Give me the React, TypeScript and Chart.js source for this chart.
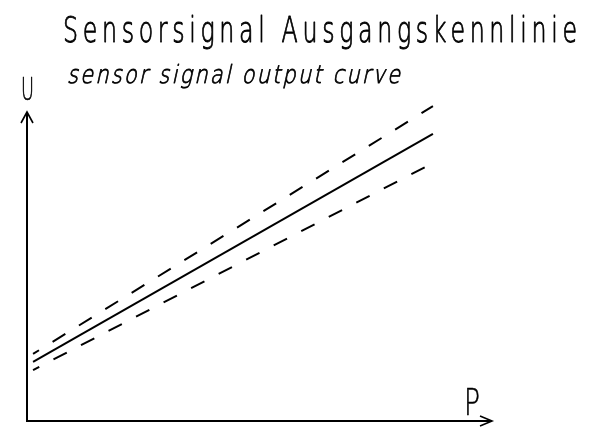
import React, { useEffect, useRef } from "react";
import { Chart, registerables } from "chart.js";

Chart.register(...registerables);

// Data (arbitrary units, P on x, U on y)
const P_VALUES = [1.3, 87.3];
const U_NOMINAL = [19.1, 92.9];
const U_UPPER = [21.7, 101.9];
const U_LOWER = [16.5, 83.5];

const TITLE = "Sensorsignal Ausgangskennlinie";
const SUBTITLE = "sensor signal output curve";
const Y_LABEL = "U";
const X_LABEL = "P";

const pts = (ys: number[]) => P_VALUES.map((x, i) => ({ x, y: ys[i] }));

function fitText(
  ctx: CanvasRenderingContext2D,
  text: string,
  x: number,
  baseline: number,
  width: number,
  font: string,
  sx: number,
  skew = 0,
  stroke = 0
) {
  ctx.save();
  ctx.font = font;
  ctx.textBaseline = "alphabetic";
  ctx.textAlign = "left";
  (ctx as any).letterSpacing = "0px";
  const m = ctx.measureText(text).width;
  const n = text.length;
  const ls = n > 1 ? (width / sx - m) / (n - 1) : 0;
  (ctx as any).letterSpacing = `${ls}px`;
  ctx.translate(x, baseline);
  ctx.transform(1, 0, -skew, 1, 0, 0);
  ctx.scale(n > 1 ? sx : width / m, 1);
  ctx.fillStyle = "#000";
  ctx.fillText(text, 0, 0);
  if (stroke > 0) {
    ctx.strokeStyle = "#000";
    ctx.lineWidth = stroke;
    ctx.lineJoin = "round";
    ctx.strokeText(text, 0, 0);
  }
  ctx.restore();
}

const decorPlugin = {
  id: "decor",
  afterDraw(chart: any) {
    const { ctx, chartArea } = chart;
    const { left, right, top, bottom } = chartArea;
    ctx.save();
    ctx.strokeStyle = "#000";
    ctx.lineWidth = 2;
    ctx.lineCap = "butt";
    // axes
    ctx.beginPath();
    ctx.moveTo(left, top);
    ctx.lineTo(left, bottom);
    ctx.lineTo(right, bottom);
    ctx.stroke();
    // arrowheads
    ctx.lineWidth = 1.6;
    ctx.beginPath();
    ctx.moveTo(left - 6, top + 11);
    ctx.lineTo(left, top);
    ctx.lineTo(left + 6, top + 11);
    ctx.moveTo(right - 12, bottom - 5);
    ctx.lineTo(right, bottom);
    ctx.lineTo(right - 12, bottom + 5);
    ctx.stroke();
    ctx.restore();

    const fam = "'DejaVu Sans', sans-serif";
    fitText(ctx, TITLE, 63, 42, 514, `200 36px ${fam}`, 0.66, 0, 0.9);
    fitText(ctx, SUBTITLE, 67, 83, 333, `200 25px ${fam}`, 0.84, 0.22, 0.8);
    fitText(ctx, Y_LABEL, 21, 100, 13, `200 32px ${fam}`, 1, 0, 0.6);
    fitText(ctx, X_LABEL, 464, 415, 16, `200 38px ${fam}`, 1, 0, 0.6);
  },
};

export default function App() {
  const ref = useRef<HTMLCanvasElement | null>(null);
  useEffect(() => {
    document.body.style.margin = "0";
    const canvas = ref.current!;
    const dashed = {
      borderColor: "#000",
      borderWidth: 2,
      borderDash: [15, 16],
      borderDashOffset: 8,
      pointRadius: 0,
      fill: false,
      tension: 0,
      clip: false as any,
    };
    const chart = new Chart(canvas, {
      type: "line",
      data: {
        datasets: [
          { label: "upper", data: pts(U_UPPER), ...dashed },
          {
            label: "nominal",
            data: pts(U_NOMINAL),
            borderColor: "#000",
            borderWidth: 2,
            pointRadius: 0,
            fill: false,
            tension: 0,
            clip: false as any,
          },
          { label: "lower", data: pts(U_LOWER), ...dashed },
        ],
      },
      options: {
        animation: false,
        responsive: false,
        devicePixelRatio: 1,
        layout: { padding: { left: 27, right: 112, top: 112, bottom: 6 } },
        plugins: {
          legend: { display: false },
          title: { display: false },
          tooltip: { enabled: false },
        },
        scales: {
          x: { type: "linear", min: 0, max: 100, display: false },
          y: { type: "linear", min: 0, max: 100, display: false },
        },
      },
      plugins: [decorPlugin],
    });
    return () => chart.destroy();
  }, []);
  return (
    <div style={{ position: "absolute", left: 0, top: 0, width: 604, height: 427, background: "#fff" }}>
      <canvas ref={ref} width={604} height={427} style={{ display: "block" }} />
    </div>
  );
}
